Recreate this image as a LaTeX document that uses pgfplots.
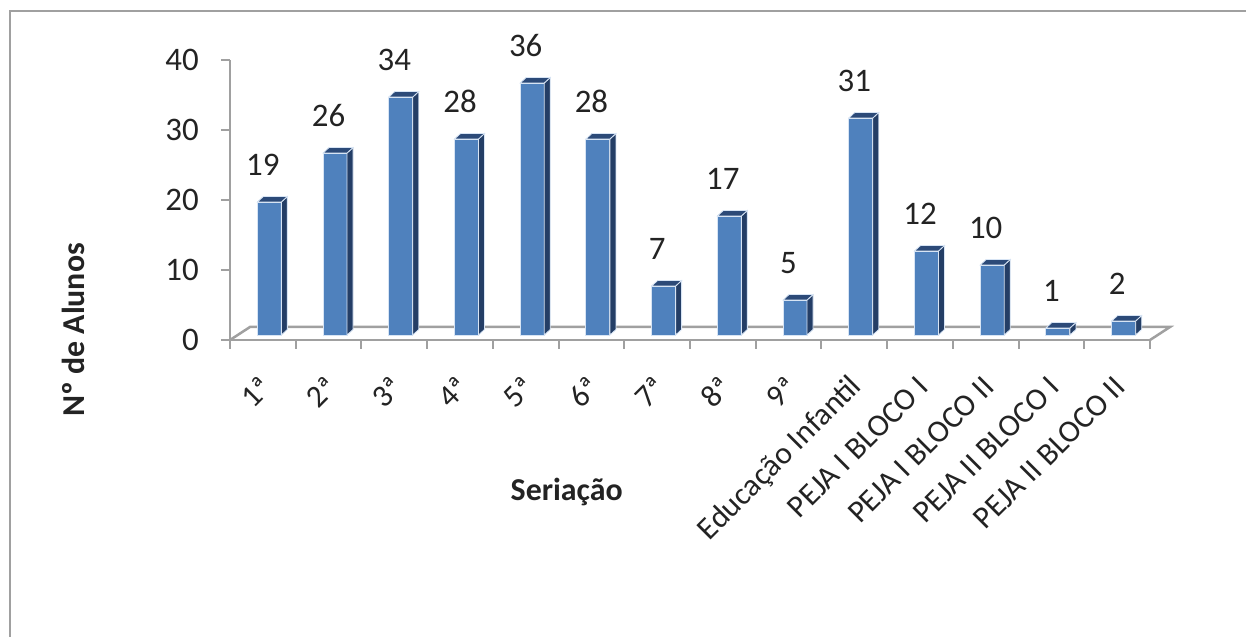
\documentclass[border=0pt]{standalone}
\usepackage{fontspec}
\setmainfont{Carlito}
\usepackage{pgfplots}
\usepackage{pgfplotstable}
\pgfplotsset{compat=1.18}
\definecolor{barfront}{RGB}{79,129,189}
\definecolor{barside}{RGB}{36,62,102}
\definecolor{bartop}{RGB}{44,74,120}
\definecolor{baredge}{RGB}{215,228,244}
\definecolor{axgray}{RGB}{160,160,160}
\definecolor{txt}{RGB}{35,35,35}

\pgfdeclareplotmark{box3d}{%
  \pgfsetlinewidth{0.8bp}%
  \pgfsetstrokecolor{baredge}%
  \pgfsetfillcolor{barside}%
  \pgfpathmoveto{\pgfpoint{12bp}{0bp}}%
  \pgfpathlineto{\pgfpoint{18bp}{5.5bp}}%
  \pgfpathlineto{\pgfpoint{18bp}{5.5bp-\barh bp}}%
  \pgfpathlineto{\pgfpoint{12bp}{-\barh bp}}%
  \pgfpathclose
  \pgfusepath{fill,stroke}%
  \pgfsetfillcolor{bartop}%
  \pgfpathmoveto{\pgfpoint{-12bp}{0bp}}%
  \pgfpathlineto{\pgfpoint{-6bp}{5.5bp}}%
  \pgfpathlineto{\pgfpoint{18bp}{5.5bp}}%
  \pgfpathlineto{\pgfpoint{12bp}{0bp}}%
  \pgfpathclose
  \pgfusepath{fill,stroke}%
}

\pgfplotstableread{
x y
0 19
1 26
2 34
3 28
4 36
5 28
6 7
7 17
8 5
9 31
10 12
11 10
12 1
13 2
}\data

\begin{document}
\begin{tikzpicture}
\path[use as bounding box] (0bp,0bp) rectangle (1246bp,637bp);
\draw[axgray, line width=2bp] (10bp,0bp) -- (10bp,626bp) -- (1246bp,626bp);
\begin{axis}[
  at={(230bp,297bp)}, anchor=south west,
  scale only axis, width=920bp, height=280bp,
  xmin=-0.5, xmax=13.5, ymin=0, ymax=40,
  axis x line*=bottom, axis y line*=left,
  axis line style={axgray, line width=2.5bp, -},
  ytick={0,10,20,30,40},
  xtick={0,...,13},
  xticklabels={1ª,2ª,3ª,4ª,5ª,6ª,7ª,8ª,9ª,Educação Infantil,PEJA I BLOCO I,PEJA I BLOCO II,PEJA II BLOCO I,PEJA II BLOCO II},
  minor xtick={-0.5,0.5,...,13.5},
  tick align=outside,
  major tick length=9bp, minor tick length=9bp,
  tick style={axgray, line width=2bp},
  major x tick style={draw=none},
  /pgf/number format/assume math mode=true,
  yticklabel style={font=\fontsize{33}{36}\selectfont, text=txt, anchor=east, inner sep=0pt, xshift=-22bp},
  xticklabel style={font=\fontsize{31.5}{34}\selectfont, text=txt, xshift=3bp, yshift=-33bp, rotate=45, anchor=east, inner sep=0pt},
  xlabel={Seriação},
  ylabel={Nº de Alunos},
  xlabel style={at={(axis description cs:0.366,-0.543)}, anchor=center, font=\bfseries\fontsize{32}{34}\selectfont, text=txt},
  ylabel style={at={(axis description cs:-0.1707,0.036)}, anchor=center, font=\bfseries\fontsize{32}{34}\selectfont, text=txt},
  clip=false,
]
\draw[axgray, line width=2.5bp] (axis cs:-0.5,0) -- ++(20bp,13bp) -- ++(920bp,0bp) -- (axis cs:13.5,0);
\addplot[ybar, bar width=24bp, bar shift=6.5bp, yshift=5bp, fill=barfront, draw=baredge, line width=0.9bp,
  nodes near coords,
  every node near coord/.append style={font=\fontsize{33}{35}\selectfont, text=txt, anchor=base, inner sep=0pt, yshift=26bp}
] table[x=x,y=y] {\data};
\addplot[only marks, mark=box3d, xshift=6.5bp, yshift=5bp,
  visualization depends on={\thisrow{y}*7 \as \barh}] table[x=x,y=y] {\data};
\end{axis}
\end{tikzpicture}
\end{document}
